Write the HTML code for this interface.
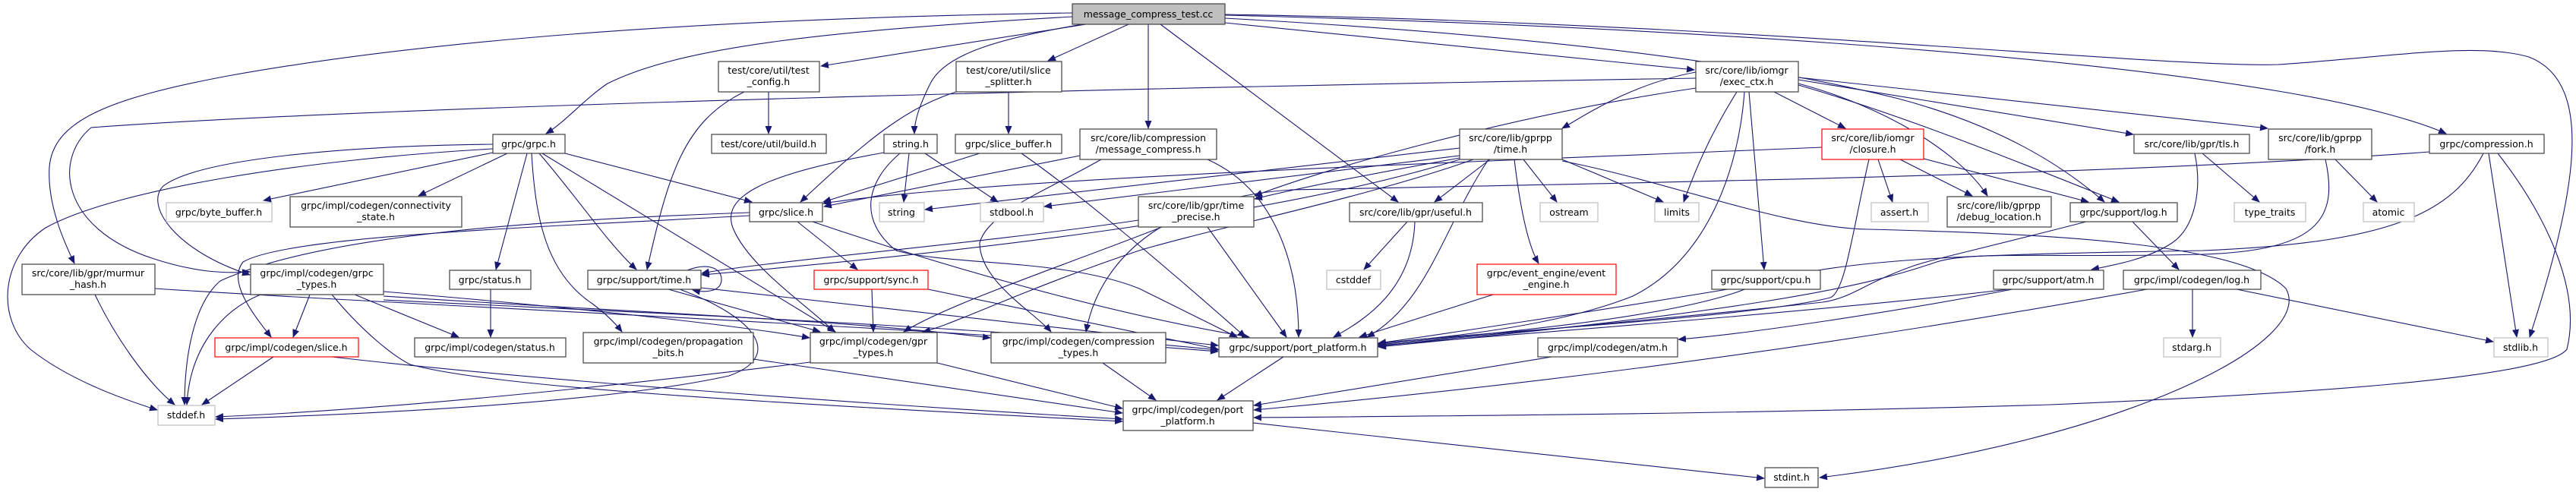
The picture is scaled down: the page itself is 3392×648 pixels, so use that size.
<!DOCTYPE html>
<html><head><meta charset="utf-8"><style>
html,body{margin:0;padding:0;background:#fff;}
svg{display:block;}
text{font-family:"DejaVu Sans","Liberation Sans",sans-serif;font-size:12.5px;fill:#000;text-anchor:middle;}
.n{fill:#fff;stroke:#404040;stroke-width:1.2;}
.g{fill:#fff;stroke:#bfbfbf;stroke-width:1.2;}
.r{fill:#fff;stroke:#ff0000;stroke-width:1.2;}
.e{fill:none;stroke:#191970;stroke-width:1.1;marker-end:url(#a);}
</style></head><body>
<svg width="3392" height="648" viewBox="0 0 3392 648" xmlns="http://www.w3.org/2000/svg">
<defs><marker id="a" markerWidth="11" markerHeight="9" refX="10" refY="4.5" orient="auto" markerUnits="userSpaceOnUse"><path d="M0,0 L11,4.5 L0,9z" fill="#191970"/></marker></defs>

<!-- edges -->
<g>
<path class="e" d="M1430,32 L1081,87"/>
<path class="e" d="M1486,32 L1380,80"/>
<path class="e" d="M1425,32 C1320,50 1245,70 1225,110 C1210,140 1204,160 1204,176"/>
<path class="e" d="M1412,22 C1100,40 900,60 800,110 C770,130 745,160 719,176"/>
<path class="e" d="M1412,17 C900,25 550,55 300,100 C140,130 70,160 65,220 C62,270 85,320 98,347"/>
<path class="e" d="M1512,32 L1512,169"/>
<path class="e" d="M1528,32 L1841,266"/>
<path class="e" d="M1613,30 L2231,92"/>
<path class="e" d="M1613,24 C2000,45 2300,80 2500,130 C2650,170 2730,230 2771,266"/>
<path class="e" d="M1613,20 C2200,35 2700,70 3000,120 C3120,140 3190,162 3221,176"/>
<path class="e" d="M1613,19 C2300,30 2850,90 3000,85 C3150,75 3260,55 3330,75 C3420,110 3390,260 3331,444"/>

<path class="e" d="M649,201 L347,264"/>
<path class="e" d="M668,202 L551,258"/>
<path class="e" d="M694,202 L653,355"/>
<path class="e" d="M710,202 C760,260 800,320 838,355"/>
<path class="e" d="M744,202 L990,266"/>
<path class="e" d="M714,202 L1100,437"/>
<path class="e" d="M700,202 C705,290 720,360 780,400 C800,415 812,428 819,437"/>
<path class="e" d="M649,190 C450,192 260,210 215,245 C190,270 230,330 329,362"/>
<path class="e" d="M649,196 C400,210 150,250 60,300 C0,340 -5,420 40,460 C90,500 160,525 207,540"/>

<path class="e" d="M1012,121 L1012,176"/>
<path class="e" d="M980,121 C900,160 880,230 852,355"/>
<path class="e" d="M1328,121 L1328,176"/>
<path class="e" d="M1259,121 C1200,140 1150,175 1054,266"/>

<path class="e" d="M1197,202 L1190,266"/>
<path class="e" d="M1218,202 L1314,266"/>
<path class="e" d="M1164,201 C1000,230 950,260 965,300 C985,350 1060,400 1099,437"/>
<path class="e" d="M1185,202 C1140,240 1130,290 1180,330 C1250,350 1400,340 1500,380 C1560,410 1600,430 1629,444"/>
<path class="e" d="M1290,202 L1084,266"/>
<path class="e" d="M1345,202 C1400,240 1500,320 1640,444"/>

<path class="e" d="M1050,292 L1129,355"/>
<path class="e" d="M1070,292 C1300,370 1500,420 1645,444"/>
<path class="e" d="M987,284 C700,300 380,310 320,345 C300,370 330,410 357,444"/>
<path class="e" d="M987,280 C700,290 420,310 290,370 C255,400 243,470 243,533"/>

<path class="e" d="M1422,205 L1085,272"/>
<path class="e" d="M1590,210 C1680,250 1710,350 1710,444"/>
<path class="e" d="M1450,210 C1380,250 1300,280 1290,320 C1290,370 1360,410 1384,437"/>

<path class="e" d="M1499,290 C1300,320 1000,345 924,360"/>
<path class="e" d="M1590,299 L1694,444"/>
<path class="e" d="M1530,299 C1400,350 1250,400 1190,437"/>

<path class="e" d="M1853,292 L1796,355"/>
<path class="e" d="M1863,292 C1860,380 1800,420 1756,444"/>

<path class="e" d="M1962,210 L1889,266"/>
<path class="e" d="M2006,210 L2050,266"/>
<path class="e" d="M1994,210 C2000,260 2010,320 2026,347"/>
<path class="e" d="M2057,210 L2190,266"/>
<path class="e" d="M1922,195 L1218,276"/>
<path class="e" d="M1922,205 L1375,272"/>
<path class="e" d="M1922,208 C1800,230 1700,250 1652,262"/>
<path class="e" d="M1922,210 C1700,280 1300,330 924,362"/>
<path class="e" d="M1940,210 C1800,260 1600,300 1500,330 C1350,380 1250,430 1215,437"/>
<path class="e" d="M1960,210 C1900,300 1880,400 1800,444"/>
<path class="e" d="M2057,212 C2200,240 2350,300 2460,302 C2700,308 2950,320 3010,380 C3050,450 2800,580 2396,629"/>

<path class="e" d="M2336,121 L2430,169"/>
<path class="e" d="M2287,121 C2250,180 2230,230 2217,266"/>
<path class="e" d="M2303,121 L2323,355"/>
<path class="e" d="M2368,110 C2480,140 2580,200 2617,258"/>
<path class="e" d="M2368,112 C2500,150 2650,210 2790,266"/>
<path class="e" d="M2368,105 L2809,177"/>
<path class="e" d="M2368,102 L2986,169"/>
<path class="e" d="M2297,121 C2290,220 2250,340 2150,390 C2050,430 1900,445 1815,452"/>
<path class="e" d="M2233,95 C2150,110 2090,150 2057,169"/>
<path class="e" d="M2233,116 C2000,150 1750,220 1652,258"/>
<path class="e" d="M2233,103 C1500,115 500,140 120,168 C70,210 80,300 200,340 C260,360 300,360 329,358"/>

<path class="e" d="M2473,210 L2492,266"/>
<path class="e" d="M2502,210 L2597,258"/>
<path class="e" d="M2533,209 L2750,266"/>
<path class="e" d="M2461,210 C2440,300 2430,385 2410,392 C2300,420 1900,440 1815,453"/>
<path class="e" d="M2399,194 C1900,215 1300,235 1084,268"/>

<path class="e" d="M2808,292 L2869,355"/>
<path class="e" d="M2747,292 C2600,330 2550,340 2520,350 C2450,375 2440,392 2400,398 C2200,420 1950,440 1815,456"/>
<path class="e" d="M2900,202 L2975,266"/>
<path class="e" d="M2890,202 C2900,250 2890,300 2860,320 C2830,340 2790,348 2754,355"/>
<path class="e" d="M3075,210 L3130,266"/>
<path class="e" d="M3062,210 C3080,290 3050,330 2900,335 C2700,340 2600,330 2550,345 C2450,380 2300,410 1815,457"/>
<path class="e" d="M3277,202 L3314,444"/>
<path class="e" d="M3199,200 C2800,230 2200,240 1700,250 C1550,260 1450,330 1430,437"/>
<path class="e" d="M3289,202 C3350,280 3400,380 3380,460 C3350,500 3000,520 2700,533 C2300,545 1900,548 1651,550"/>
<path class="e" d="M3270,202 C3230,280 3150,320 2900,330 C2600,335 2400,340 2300,380 C2200,420 1950,440 1815,454"/>

<path class="e" d="M2887,381 L2887,444"/>
<path class="e" d="M2945,381 L3283,450"/>
<path class="e" d="M2827,381 C2500,440 2100,500 1651,540"/>
<path class="e" d="M2650,381 C2500,410 2300,440 2210,447"/>
<path class="e" d="M2645,381 C2400,410 2000,440 1815,455"/>
<path class="e" d="M2275,381 C2100,410 1900,440 1815,452"/>
<path class="e" d="M1966,388 L1790,444"/>
<path class="e" d="M2043,470 L1651,534"/>
<path class="e" d="M1690,470 L1603,527"/>
<path class="e" d="M1650,557 L2323,630"/>
<path class="e" d="M1452,478 L1522,527"/>
<path class="e" d="M1234,478 L1478,538"/>
<path class="e" d="M1067,477 C800,510 500,540 284,549"/>
<path class="e" d="M992,473 L1478,544"/>
<path class="e" d="M923,379 L1604,455"/>
<path class="e" d="M880,381 L1080,437"/>
<path class="e" d="M905,356 C930,346 950,352 950,368 C950,384 930,386 912,382"/>
<path class="e" d="M895,381 C1000,420 1030,470 960,495 C800,530 500,545 284,552"/>
<path class="e" d="M1148,381 L1150,437"/>
<path class="e" d="M1222,381 L1604,460"/>
<path class="e" d="M646,381 L646,444"/>
<path class="e" d="M408,388 L386,444"/>
<path class="e" d="M467,388 L604,444"/>
<path class="e" d="M343,388 C290,410 250,460 246,533"/>
<path class="e" d="M505,384 C700,400 950,425 1066,445"/>
<path class="e" d="M505,390 C800,410 1100,420 1304,445"/>
<path class="e" d="M437,388 C480,440 520,470 540,480 C650,510 1000,530 1478,555"/>
<path class="e" d="M505,395 C800,410 1300,430 1604,461"/>
<path class="e" d="M360,470 L266,533"/>
<path class="e" d="M437,470 C700,500 1100,530 1478,552"/>
<path class="e" d="M125,388 C150,440 190,500 230,533"/>
<path class="e" d="M204,380 C500,400 1200,430 1604,463"/>
</g>

<!-- nodes -->
<g>
<rect x="1412" y="5" width="201" height="27" style="fill:#bfbfbf;stroke:#404040;stroke-width:1.2"/><text x="1512" y="23">message_compress_test.cc</text>

<rect class="n" x="946" y="81" width="133" height="40"/><text x="1012" y="97">test/core/util/test</text><text x="1012" y="112">_config.h</text>
<rect class="n" x="1259" y="81" width="139" height="40"/><text x="1328" y="97">test/core/util/slice</text><text x="1328" y="112">_splitter.h</text>
<rect class="n" x="2233" y="81" width="135" height="40"/><text x="2300" y="97">src/core/lib/iomgr</text><text x="2300" y="112">/exec_ctx.h</text>

<rect class="n" x="649" y="177" width="95" height="25"/><text x="696" y="194">grpc/grpc.h</text>
<rect class="n" x="937" y="177" width="151" height="25"/><text x="1012" y="194">test/core/util/build.h</text>
<rect class="n" x="1164" y="177" width="70" height="25"/><text x="1199" y="194">string.h</text>
<rect class="n" x="1258" y="177" width="140" height="25"/><text x="1328" y="194">grpc/slice_buffer.h</text>
<rect class="n" x="1422" y="170" width="180" height="40"/><text x="1512" y="186">src/core/lib/compression</text><text x="1512" y="201">/message_compress.h</text>
<rect class="n" x="1922" y="170" width="135" height="40"/><text x="1989" y="186">src/core/lib/gprpp</text><text x="1989" y="201">/time.h</text>
<rect class="r" x="2399" y="170" width="134" height="40"/><text x="2466" y="186">src/core/lib/iomgr</text><text x="2466" y="201">/closure.h</text>
<rect class="n" x="2810" y="177" width="152" height="25"/><text x="2886" y="194">src/core/lib/gpr/tls.h</text>
<rect class="n" x="2987" y="170" width="136" height="40"/><text x="3055" y="186">src/core/lib/gprpp</text><text x="3055" y="201">/fork.h</text>
<rect class="n" x="3199" y="177" width="151" height="25"/><text x="3274" y="194">grpc/compression.h</text>

<rect class="g" x="219" y="267" width="139" height="25"/><text x="288" y="284">grpc/byte_buffer.h</text>
<rect class="n" x="382" y="259" width="226" height="40"/><text x="495" y="275">grpc/impl/codegen/connectivity</text><text x="495" y="290">_state.h</text>
<rect class="n" x="987" y="267" width="96" height="25"/><text x="1035" y="284">grpc/slice.h</text>
<rect class="g" x="1158" y="267" width="59" height="25"/><text x="1187" y="284">string</text>
<rect class="g" x="1291" y="267" width="83" height="25"/><text x="1332" y="284">stdbool.h</text>
<rect class="n" x="1499" y="259" width="152" height="40"/><text x="1575" y="275">src/core/lib/gpr/time</text><text x="1575" y="290">_precise.h</text>
<rect class="n" x="1777" y="267" width="175" height="25"/><text x="1864" y="284">src/core/lib/gpr/useful.h</text>
<rect class="g" x="2028" y="267" width="76" height="25"/><text x="2066" y="284">ostream</text>
<rect class="g" x="2179" y="267" width="58" height="25"/><text x="2208" y="284">limits</text>
<rect class="g" x="2464" y="267" width="75" height="25"/><text x="2501" y="284">assert.h</text>
<rect class="n" x="2564" y="259" width="137" height="40"/><text x="2632" y="275">src/core/lib/gprpp</text><text x="2632" y="290">/debug_location.h</text>
<rect class="n" x="2726" y="267" width="141" height="25"/><text x="2796" y="284">grpc/support/log.h</text>
<rect class="g" x="2942" y="267" width="94" height="25"/><text x="2989" y="284">type_traits</text>
<rect class="g" x="3112" y="267" width="67" height="25"/><text x="3145" y="284">atomic</text>

<rect class="n" x="29" y="348" width="175" height="40"/><text x="116" y="364">src/core/lib/gpr/murmur</text><text x="116" y="379">_hash.h</text>
<rect class="n" x="330" y="348" width="175" height="40"/><text x="417" y="364">grpc/impl/codegen/grpc</text><text x="417" y="379">_types.h</text>
<rect class="n" x="592" y="356" width="107" height="25"/><text x="645" y="373">grpc/status.h</text>
<rect class="n" x="774" y="356" width="149" height="25"/><text x="848" y="373">grpc/support/time.h</text>
<rect class="r" x="1072" y="356" width="150" height="25"/><text x="1147" y="373">grpc/support/sync.h</text>
<rect class="g" x="1747" y="356" width="71" height="25"/><text x="1782" y="373">cstddef</text>
<rect class="r" x="1945" y="348" width="183" height="40"/><text x="2036" y="364">grpc/event_engine/event</text><text x="2036" y="379">_engine.h</text>
<rect class="n" x="2254" y="356" width="143" height="25"/><text x="2325" y="373">grpc/support/cpu.h</text>
<rect class="n" x="2625" y="356" width="145" height="25"/><text x="2697" y="373">grpc/support/atm.h</text>
<rect class="n" x="2796" y="356" width="181" height="25"/><text x="2886" y="373">grpc/impl/codegen/log.h</text>

<rect class="r" x="283" y="445" width="189" height="25"/><text x="377" y="462">grpc/impl/codegen/slice.h</text>
<rect class="n" x="546" y="445" width="199" height="25"/><text x="645" y="462">grpc/impl/codegen/status.h</text>
<rect class="n" x="768" y="438" width="224" height="40"/><text x="880" y="454">grpc/impl/codegen/propagation</text><text x="880" y="469">_bits.h</text>
<rect class="n" x="1067" y="438" width="167" height="40"/><text x="1150" y="454">grpc/impl/codegen/gpr</text><text x="1150" y="469">_types.h</text>
<rect class="n" x="1305" y="438" width="230" height="40"/><text x="1420" y="454">grpc/impl/codegen/compression</text><text x="1420" y="469">_types.h</text>
<rect class="n" x="1605" y="445" width="209" height="25"/><text x="1709" y="462">grpc/support/port_platform.h</text>
<rect class="n" x="2025" y="445" width="184" height="25"/><text x="2117" y="462">grpc/impl/codegen/atm.h</text>
<rect class="g" x="2849" y="445" width="75" height="25"/><text x="2886" y="462">stdarg.h</text>
<rect class="g" x="3284" y="445" width="71" height="25"/><text x="3319" y="462">stdlib.h</text>

<rect class="g" x="208" y="534" width="75" height="26"/><text x="245" y="551">stddef.h</text>
<rect class="n" x="1479" y="528" width="171" height="39"/><text x="1564" y="544">grpc/impl/codegen/port</text><text x="1564" y="559">_platform.h</text>
<rect class="n" x="2324" y="616" width="70" height="26"/><text x="2359" y="633">stdint.h</text>
</g>
</svg>
</body></html>
